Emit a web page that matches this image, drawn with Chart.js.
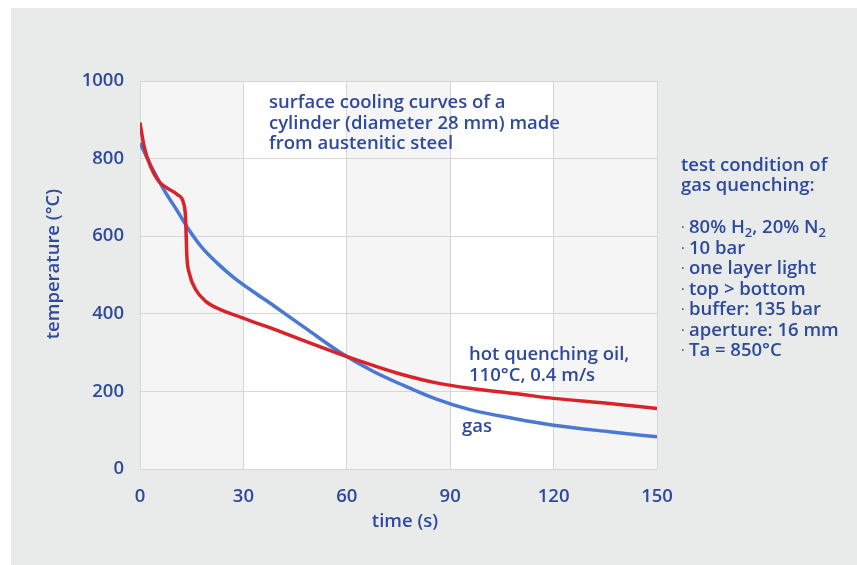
<!DOCTYPE html>
<html>
<head>
<meta charset="utf-8">
<script src="https://cdn.jsdelivr.net/npm/chart.js@4/dist/chart.umd.min.js"></script>
<style>
  html, body { margin: 0; padding: 0; background: #ffffff; }
  canvas { display: block; }
</style>
</head>
<body>
<canvas id="chartRefroidissement" width="857" height="565"></canvas>
<script>
// Courbes de refroidissement en surface (temps en s, température en °C)
const oilTime = [0, 1.2, 3.1, 5.5, 7.9, 10.9, 12.6, 13.2, 13.4, 13.6, 14.3, 16.2, 19.1, 23.5, 29.3, 33.2, 38.6, 48.3, 58, 67.6, 76.3, 86, 95.7, 109.2, 120, 136.2, 150];
const oilTemp = [893, 831, 779, 741, 724, 707, 686, 650, 600, 548, 505, 462, 432, 410, 391, 378, 361, 328, 296, 267, 243, 222, 208, 194, 182, 169, 156];

const gasTime = [0, 3.1, 7, 10.9, 13.8, 17.7, 22.5, 27.4, 33.2, 38.6, 48.3, 58, 67.6, 76.3, 86, 95.7, 109.2, 120, 136.2, 150];
const gasTemp = [840, 783, 719, 664, 622, 574, 530, 492, 455, 422, 361, 301, 252, 216, 180, 153, 129, 113, 96, 83];

// Graduations des axes
const timeTicks = [0, 30, 60, 90, 120, 150];
const tempTicks = [0, 200, 400, 600, 800, 1000];

// Textes
const titleLines = ['surface cooling curves of a', 'cylinder (diameter 28 mm) made', 'from austenitic steel'];
const oilLabel = ['hot quenching oil,', '110°C, 0.4 m/s'];
const gasLabel = 'gas';
const conditionTitle = ['test condition of', 'gas quenching:'];
const conditionItems = [
    [['80% H', 0], ['2', 1], [', 20% N', 0], ['2', 1]],
    [['10 bar', 0]],
    [['one layer light', 0]],
    [['top > bottom', 0]],
    [['buffer: 135 bar', 0]],
    [['aperture: 16 mm', 0]],
    [['Ta = 850°C', 0]]
];

const textColor = '#2e4a9b';
const gridColor = '#d6d6d6';
const fontFamily = '"Open Sans", "Noto Sans", sans-serif';
const mainFont = '600 18.5px ' + fontFamily;

function toPoints(xs, ys) {
    return xs.map((x, i) => ({ x: x, y: ys[i] }));
}

// Fond gris du cadre et bandes verticales alternées dans la zone de tracé
const fondPlugin = {
    id: 'fond',
    beforeDraw(chart) {
        const { ctx, chartArea, scales } = chart;
        ctx.save();
        ctx.fillStyle = '#ffffff';
        ctx.fillRect(0, 0, chart.width, chart.height);
        ctx.fillStyle = '#e9eaea';
        ctx.fillRect(11, 8, chart.width - 11, chart.height - 8);

        for (let i = 0; i < timeTicks.length - 1; i++) {
            const x0 = scales.x.getPixelForValue(timeTicks[i]);
            const x1 = scales.x.getPixelForValue(timeTicks[i + 1]);
            ctx.fillStyle = (i % 2 === 0) ? '#f5f5f5' : '#ffffff';
            ctx.fillRect(x0, chartArea.top, x1 - x0, chartArea.bottom - chartArea.top);
        }
        ctx.restore();
    }
};

// Écrit une ligne avec indices (segments [texte, indice])
function drawSegments(ctx, segments, x, y) {
    let cx = x;
    segments.forEach(([txt, sub]) => {
        ctx.font = sub ? '600 13px ' + fontFamily : mainFont;
        ctx.fillText(txt, cx, sub ? y + 4 : y);
        cx += ctx.measureText(txt).width;
    });
}

// Annotations, titres des axes et conditions d'essai
const textesPlugin = {
    id: 'textes',
    afterDraw(chart) {
        const ctx = chart.ctx;
        ctx.save();
        ctx.fillStyle = textColor;
        ctx.textBaseline = 'alphabetic';
        ctx.textAlign = 'left';
        ctx.font = mainFont;

        titleLines.forEach((line, i) => ctx.fillText(line, 269, 108 + i * 20.6));
        oilLabel.forEach((line, i) => ctx.fillText(line, 469, 360 + i * 20.5));
        ctx.fillText(gasLabel, 462, 432);

        conditionTitle.forEach((line, i) => ctx.fillText(line, 681, 171 + i * 20));
        conditionItems.forEach((segments, i) => {
            const y = 233 + i * 20.5;
            ctx.font = '400 14px ' + fontFamily;
            ctx.fillText('·', 681, y - 1);
            drawSegments(ctx, segments, 689, y);
        });

        // Titres des axes
        ctx.font = mainFont;
        ctx.textAlign = 'center';
        ctx.textBaseline = 'middle';
        ctx.fillText('time (s)', 405, 522);

        ctx.translate(54, 264);
        ctx.rotate(-Math.PI / 2);
        ctx.fillText('temperature (°C)', 0, 0);
        ctx.restore();
    }
};

const canvas = document.getElementById('chartRefroidissement');

const tickFont = { family: fontFamily, size: 18.5, weight: '600' };

new Chart(canvas, {
    type: 'line',
    data: {
        datasets: [
            {
                label: 'hot quenching oil',
                data: toPoints(oilTime, oilTemp),
                borderColor: '#d8232a',
                borderWidth: 3.5,
                pointRadius: 0,
                cubicInterpolationMode: 'monotone'
            },
            {
                label: 'gas',
                data: toPoints(gasTime, gasTemp),
                borderColor: '#4a78d3',
                borderWidth: 3.5,
                pointRadius: 0,
                cubicInterpolationMode: 'monotone'
            }
        ]
    },
    options: {
        responsive: false,
        animation: false,
        layout: {
            padding: { top: 81, right: 200, bottom: 0, left: 0 }
        },
        plugins: {
            legend: { display: false },
            tooltip: { enabled: false }
        },
        scales: {
            x: {
                type: 'linear',
                min: timeTicks[0],
                max: timeTicks[timeTicks.length - 1],
                afterBuildTicks: axis => { axis.ticks = timeTicks.map(v => ({ value: v })); },
                afterFit: axis => { axis.height = 96; },
                ticks: {
                    color: textColor,
                    padding: 17,
                    font: tickFont,
                    callback: value => String(value)
                },
                grid: { color: gridColor, drawTicks: false },
                border: { color: gridColor }
            },
            y: {
                type: 'linear',
                min: tempTicks[0],
                max: tempTicks[tempTicks.length - 1],
                afterBuildTicks: axis => { axis.ticks = tempTicks.map(v => ({ value: v })); },
                afterFit: axis => { axis.width = 140; },
                ticks: {
                    color: textColor,
                    padding: 16,
                    font: tickFont,
                    callback: value => String(value)
                },
                grid: { color: gridColor, drawTicks: false },
                border: { color: gridColor }
            }
        }
    },
    plugins: [fondPlugin, textesPlugin]
});
</script>
</body>
</html>
